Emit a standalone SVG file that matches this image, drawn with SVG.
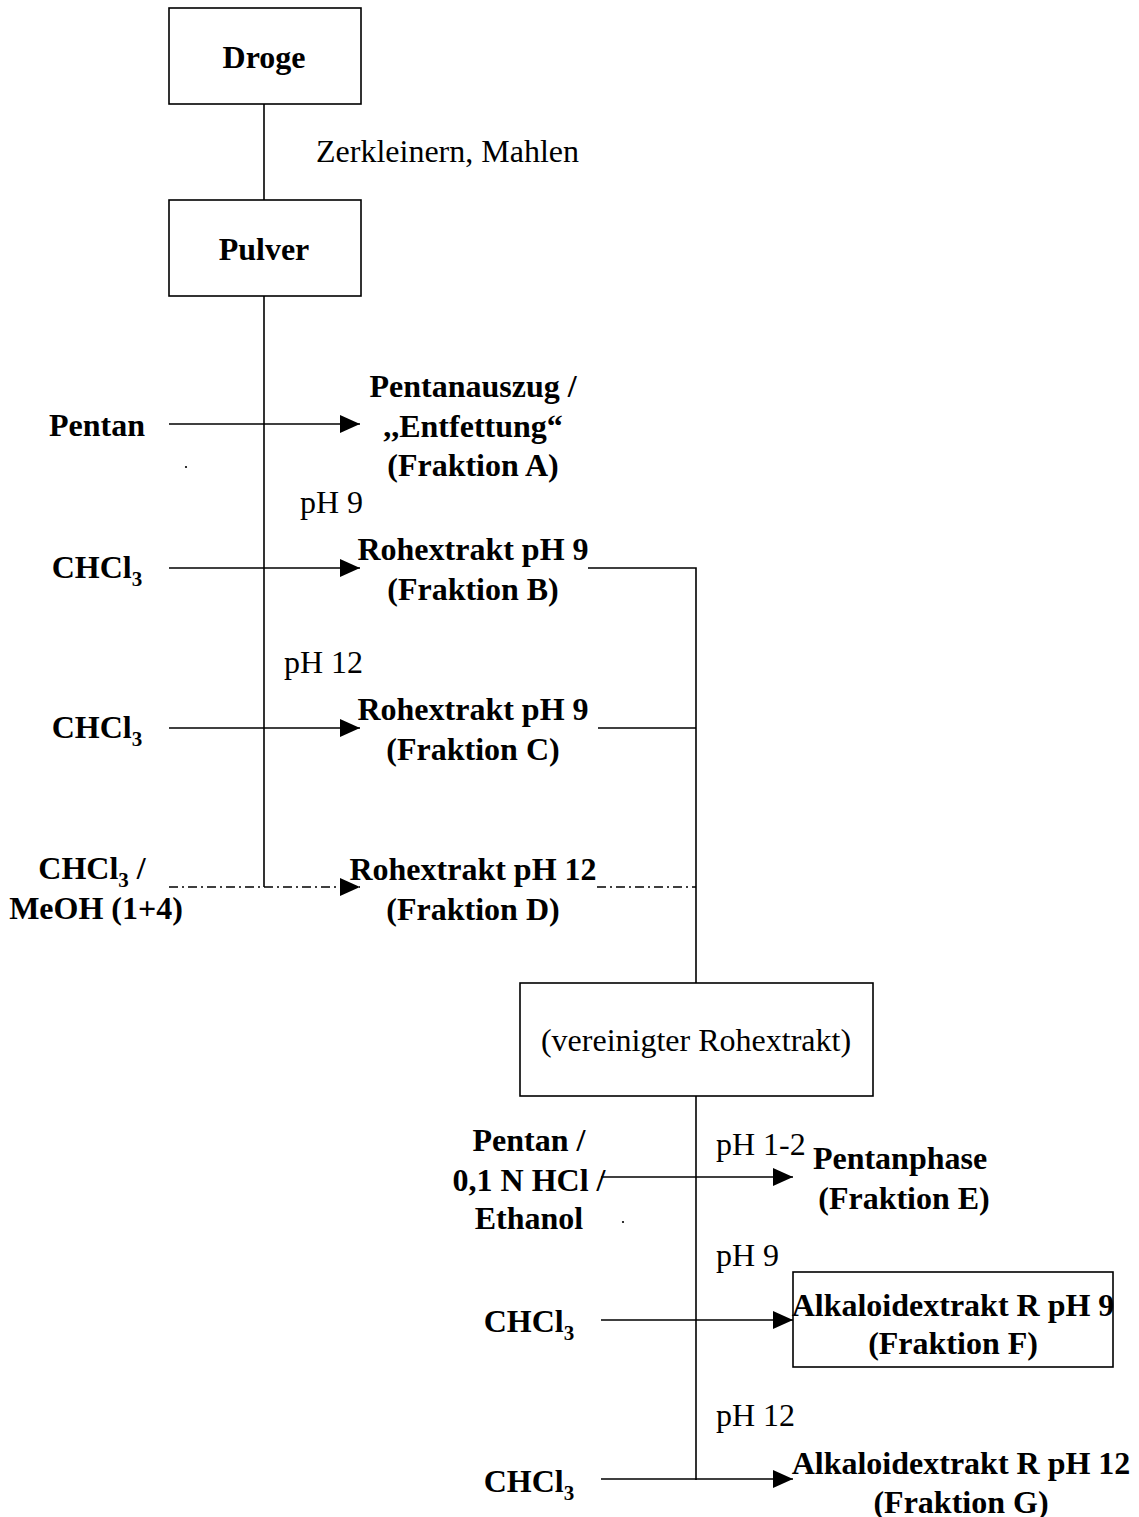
<svg xmlns="http://www.w3.org/2000/svg" width="1139" height="1517" viewBox="0 0 1139 1517">
<style>
text{font-family:"Liberation Serif","Times New Roman",serif;font-size:32px;fill:#000}
.b{font-weight:bold}
.c{text-anchor:middle}
.box{fill:#fff;stroke:#000;stroke-width:1.6}
.ln{fill:none;stroke:#000;stroke-width:1.6}
.dd{stroke-dasharray:9,4,2,4}
.sub{font-size:21px}
</style>
<defs>
<marker id="ah" markerUnits="userSpaceOnUse" markerWidth="20" markerHeight="18" refX="20" refY="9" orient="auto">
<path d="M0,0 L20,9 L0,18 z" fill="#000"/>
</marker>
</defs>
<g id="connectors">
<line class="ln" x1="264" y1="104" x2="264" y2="200"/>
<line class="ln" x1="264" y1="296" x2="264" y2="887"/>
<line class="ln" x1="169" y1="424" x2="360" y2="424" marker-end="url(#ah)"/>
<line class="ln" x1="169" y1="568" x2="360" y2="568" marker-end="url(#ah)"/>
<line class="ln" x1="169" y1="728" x2="360" y2="728" marker-end="url(#ah)"/>
<line class="ln dd" x1="169" y1="887" x2="360" y2="887" marker-end="url(#ah)"/>
<polyline class="ln" points="588,568 696,568 696,983"/>
<line class="ln" x1="598" y1="728" x2="696" y2="728"/>
<line class="ln dd" x1="597" y1="887" x2="696" y2="887"/>
<line class="ln" x1="696" y1="1096" x2="696" y2="1480"/>
<line class="ln" x1="601" y1="1177" x2="793" y2="1177" marker-end="url(#ah)"/>
<line class="ln" x1="601" y1="1320" x2="793" y2="1320" marker-end="url(#ah)"/>
<line class="ln" x1="601" y1="1479" x2="793" y2="1479" marker-end="url(#ah)"/>
</g>
<g id="droge"><rect class="box" x="169" y="8" width="192" height="96"/><text class="b c" x="264" y="68">Droge</text></g>
<g id="zerkleinern"><text x="316" y="162">Zerkleinern, Mahlen</text></g>
<g id="pulver"><rect class="box" x="169" y="200" width="192" height="96"/><text class="b c" x="264" y="260">Pulver</text></g>
<g id="pentan"><text class="b c" x="97" y="436">Pentan</text><circle cx="186" cy="467" r="1.1" fill="#000"/></g>
<g id="fraktionA"><text class="b c" x="473" y="397">Pentanauszug /</text><text class="b c" x="473" y="437">,,Entfettung“</text><text class="b c" x="473" y="476">(Fraktion A)</text></g>
<g id="ph9a"><text x="300" y="513">pH 9</text></g>
<g id="chcl3a"><text class="b c" x="97" y="578">CHCl<tspan class="sub" dy="8">3</tspan></text></g>
<g id="fraktionB"><text class="b c" x="473" y="560">Rohextrakt pH 9</text><text class="b c" x="473" y="600">(Fraktion B)</text></g>
<g id="ph12a"><text x="284" y="673">pH 12</text></g>
<g id="chcl3b"><text class="b c" x="97" y="738">CHCl<tspan class="sub" dy="8">3</tspan></text></g>
<g id="fraktionC"><text class="b c" x="473" y="720">Rohextrakt pH 9</text><text class="b c" x="473" y="760">(Fraktion C)</text></g>
<g id="chcl3meoh"><text class="b c" x="92" y="879">CHCl<tspan class="sub" dy="8">3</tspan><tspan dy="-8"> /</tspan></text><text class="b c" x="96" y="919">MeOH (1+4)</text></g>
<g id="fraktionD"><text class="b c" x="473" y="880">Rohextrakt pH 12</text><text class="b c" x="473" y="920">(Fraktion D)</text></g>
<g id="vereinigt"><rect class="box" x="520" y="983" width="353" height="113"/><text class="c" x="696" y="1051">(vereinigter Rohextrakt)</text></g>
<g id="pentanhcl"><text class="b c" x="529" y="1151">Pentan /</text><text class="b c" x="529" y="1191">0,1 N HCl /</text><text class="b c" x="529" y="1229">Ethanol</text><circle cx="623" cy="1222" r="1.1" fill="#000"/></g>
<g id="ph12b"><text x="716" y="1155">pH 1-2</text></g>
<g id="fraktionE"><text class="b c" x="900" y="1169">Pentanphase</text><text class="b c" x="904" y="1209">(Fraktion E)</text></g>
<g id="ph9b"><text x="716" y="1266">pH 9</text></g>
<g id="chcl3c"><text class="b c" x="529" y="1332">CHCl<tspan class="sub" dy="8">3</tspan></text></g>
<g id="fraktionF"><rect class="box" x="793" y="1272" width="320" height="95"/><text class="b c" x="953" y="1316">Alkaloidextrakt R pH 9</text><text class="b c" x="953" y="1354">(Fraktion F)</text></g>
<g id="ph12c"><text x="716" y="1426">pH 12</text></g>
<g id="chcl3d"><text class="b c" x="529" y="1492">CHCl<tspan class="sub" dy="8">3</tspan></text></g>
<g id="fraktionG"><text class="b c" x="961" y="1474">Alkaloidextrakt R pH 12</text><text class="b c" x="961" y="1513">(Fraktion G)</text></g>
</svg>
